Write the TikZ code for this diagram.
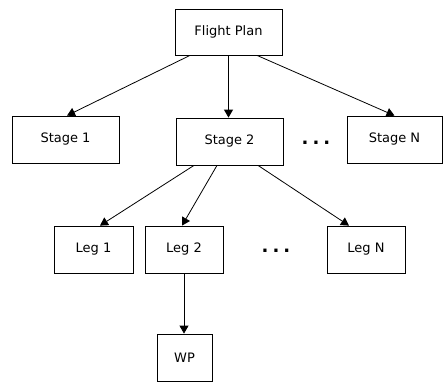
\documentclass[tikz,border=0pt]{standalone}
\usepackage{fontspec}
\setmainfont{DejaVu Sans}
\usetikzlibrary{arrows.meta}
\begin{document}
\begin{tikzpicture}[x=1pt,y=-1pt,
  box/.style={draw, line width=0.8pt, inner sep=0pt, font=\fontsize{13}{15}\selectfont},
  arr/.style={draw, line width=0.8pt, -{Triangle[length=8pt,width=9pt]}},
  dots/.style={inner sep=0pt, anchor=base west, font=\bfseries\fontsize{18}{18}\selectfont}]
\useasboundingbox (0,0) rectangle (444,383);
\node[box, minimum width=107pt, minimum height=46pt] (fp) at (228.5,32) {Flight Plan};
\node[box, minimum width=107pt, minimum height=47pt] (s1) at (65.5,139.5) {Stage 1};
\node[box, minimum width=107pt, minimum height=47pt] (s2) at (229.5,141.5) {Stage 2};
\node[box, minimum width=95pt, minimum height=47pt] (sn) at (394.5,139.5) {Stage N};
\node[box, minimum width=79pt, minimum height=47pt] (l1) at (93.5,249.5) {Leg 1};
\node[box, minimum width=78pt, minimum height=47pt] (l2) at (184,249.5) {Leg 2};
\node[box, minimum width=78pt, minimum height=47pt] (ln) at (366,249.5) {Leg N};
\node[box, minimum width=55pt, minimum height=47pt] (wp) at (184.5,357.5) {WP};
\node[dots] (d1) at (301.5,144.5) {.\kern4pt.\kern4pt.};
\node[dots] (d2) at (261.5,252.5) {.\kern4pt.\kern4pt.};
\draw[arr] ([xshift=-38.5pt]fp.south) -- ([xshift=1.5pt]s1.north);
\draw[arr] (fp.south) -- (fp.south |- s2.north);
\draw[arr] ([xshift=28.5pt]fp.south) -- (sn.north);
\draw[arr] ([xshift=-35.5pt]s2.south) -- ([xshift=6.5pt]l1.north);
\draw[arr] ([xshift=-12.5pt]s2.south) -- ([xshift=-2pt]l2.north);
\draw[arr] ([xshift=28.5pt]s2.south) -- ([xshift=-17pt]ln.north);
\draw[arr] (l2.south) -- (l2.south |- wp.north);
\end{tikzpicture}
\end{document}
